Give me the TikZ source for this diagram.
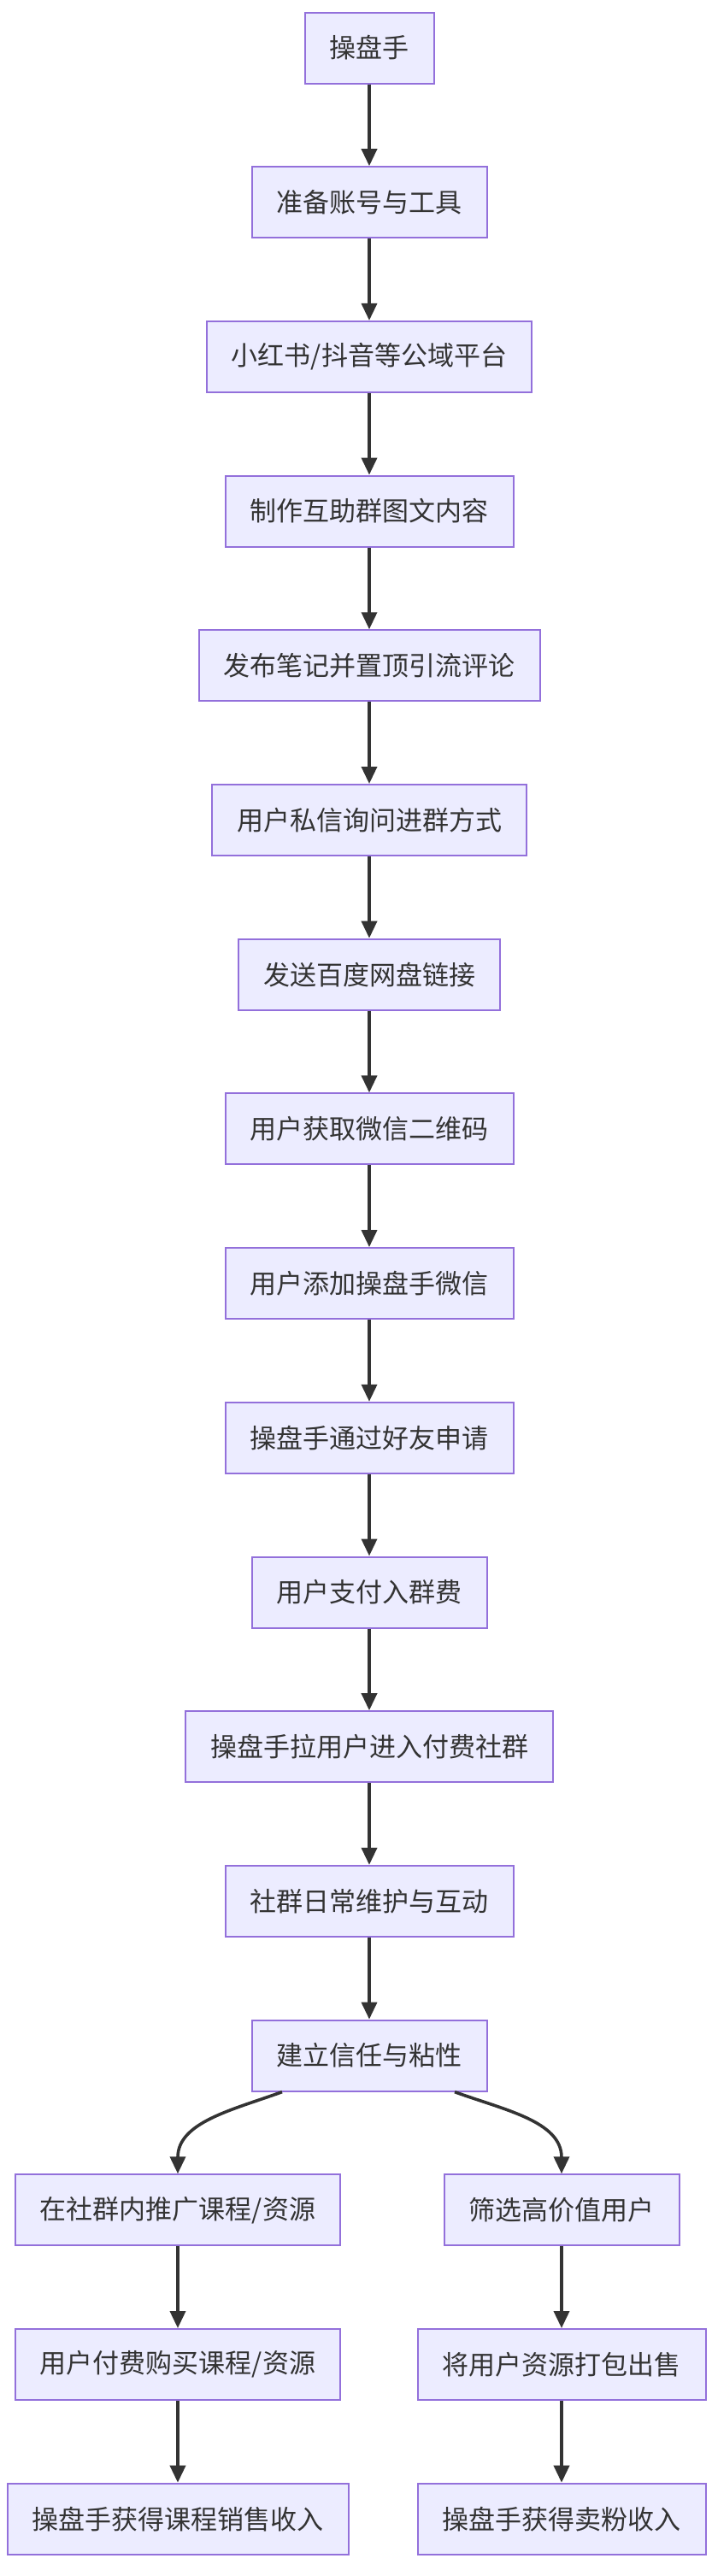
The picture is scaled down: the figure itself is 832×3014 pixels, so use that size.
\documentclass[tikz,border=0pt]{standalone}
\usepackage{fontspec}
\setmainfont{Noto Sans CJK SC}
\usetikzlibrary{arrows.meta}
\definecolor{nf}{HTML}{ECECFF}
\definecolor{ns}{HTML}{9370DB}
\definecolor{ar}{HTML}{333333}
\begin{document}
\begin{tikzpicture}[x=0.5pt,y=-0.5pt,
  box/.style={draw=ns,fill=nf,line width=1pt,inner xsep=14.5pt,minimum height=41.5pt,font=\fontsize{15.5}{18}\selectfont,text=ar},
  arr/.style={draw=ar,line width=1.8pt,-{Triangle[length=10pt,width=9pt]}}]
\useasboundingbox (0,0) rectangle (832,3014);
\def\cy#1{#1*180.7+56}
\foreach \t [count=\i from 0] in {操盘手,准备账号与工具,小红书/抖音等公域平台,制作互助群图文内容,发布笔记并置顶引流评论,用户私信询问进群方式,发送百度网盘链接,用户获取微信二维码,用户添加操盘手微信,操盘手通过好友申请,用户支付入群费,操盘手拉用户进入付费社群,社群日常维护与互动,建立信任与粘性}{
  \node[box] (n\i) at (432,{\cy{\i}}) {\t};
}
\foreach \i [remember=\i as \j (initially 0)] in {1,...,13}{
  \draw[arr] (n\j) -- (n\i);
}
\node[box] (l1) at (208,{\cy{14}}) {在社群内推广课程/资源};
\node[box] (l2) at (208,{\cy{15}}) {用户付费购买课程/资源};
\node[box] (l3) at (208,{\cy{16}}) {操盘手获得课程销售收入};
\node[box] (r1) at (657,{\cy{14}}) {筛选高价值用户};
\node[box] (r2) at (657,{\cy{15}}) {将用户资源打包出售};
\node[box] (r3) at (657,{\cy{16}}) {操盘手获得卖粉收入};
\draw[arr] ([xshift=-51pt]n13.south) to[out=200,in=90] (l1.north);
\draw[arr] ([xshift=50pt]n13.south) to[out=-20,in=90] (r1.north);
\draw[arr] (l1) -- (l2);
\draw[arr] (l2) -- (l3);
\draw[arr] (r1) -- (r2);
\draw[arr] (r2) -- (r3);
\end{tikzpicture}
\end{document}
